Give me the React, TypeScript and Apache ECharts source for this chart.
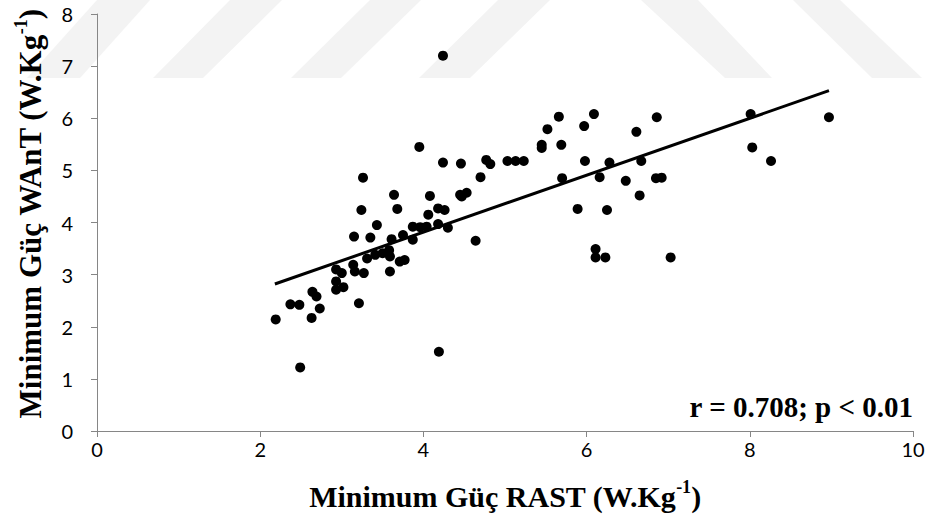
import React, { useEffect, useRef } from "react";
import * as echarts from "echarts";

// Scatter points (Minimum Güç RAST, Minimum Güç WAnT)
const rastValues: number[] = [
  2.19, 2.37, 2.48, 2.49, 2.63, 2.73, 2.64, 2.69, 2.93, 2.93,
  3.02, 2.93, 3.0, 3.14, 3.16, 3.27, 3.21, 3.31, 3.41, 3.5,
  3.58, 3.59, 3.59, 3.71, 3.77, 3.61, 3.75, 3.87, 3.15, 3.35,
  3.43, 3.87, 3.96, 4.04, 4.18, 4.3, 4.06, 4.18, 4.26, 3.24,
  3.68, 3.64, 4.08, 4.45, 4.53, 3.26, 4.19, 4.64, 4.7, 3.95,
  4.24, 4.46, 4.77, 4.82, 5.03, 5.13, 5.23, 5.45, 5.45, 5.52,
  5.66, 5.69, 5.7, 5.89, 5.97, 5.98, 6.09, 6.11, 6.11, 6.23,
  6.16, 6.25, 6.28, 6.48, 6.61, 6.65, 6.67, 6.85, 6.92, 6.86,
  7.03, 8.01, 8.03, 8.26, 8.97, 4.24, 4.47,
];
const wantValues: number[] = [
  2.14, 2.43, 2.42, 1.22, 2.17, 2.35, 2.67, 2.58, 2.71, 2.87,
  2.76, 3.1, 3.03, 3.19, 3.06, 3.03, 2.45, 3.31, 3.38, 3.41,
  3.47, 3.35, 3.06, 3.25, 3.28, 3.68, 3.76, 3.67, 3.73, 3.71,
  3.95, 3.92, 3.91, 3.92, 3.97, 3.9, 4.15, 4.27, 4.24, 4.24,
  4.26, 4.53, 4.51, 4.53, 4.57, 4.86, 1.52, 3.65, 4.87, 5.45,
  5.15, 5.13, 5.2, 5.12, 5.18, 5.18, 5.18, 5.49, 5.43, 5.79,
  6.03, 5.49, 4.85, 4.26, 5.85, 5.18, 6.08, 3.49, 3.33, 3.33,
  4.87, 4.24, 5.15, 4.8, 5.74, 4.52, 5.18, 4.85, 4.86, 6.02,
  3.33, 6.08, 5.44, 5.18, 6.02, 7.2, 4.5,
];

// Linear trend line end points
const trendX: number[] = [2.18, 8.97];
const trendY: number[] = [2.82, 6.53];

const xTicks = { min: 0, max: 10, interval: 2 };
const yTicks = { min: 0, max: 8, interval: 1 };

const xTitle = "Minimum Güç RAST (W.Kg";
const yTitle = "Minimum Güç WAnT (W.Kg";
const statText = "r = 0.708; p < 0.01";

// Watermark bands (decorative background)
const watermark: number[][][] = [
  [[97, 0], [150, 0], [80, 78], [27, 78]],
  [[230, 0], [282, 0], [203, 78], [153, 78]],
  [[370, 0], [421, 0], [341, 78], [291, 78]],
  [[498, 0], [550, 0], [470, 78], [419, 78]],
  [[641, 0], [698, 0], [772, 78], [725, 78]],
  [[793, 0], [840, 0], [922, 78], [872, 78]],
];

export default function App() {
  const ref = useRef<HTMLDivElement>(null);
  useEffect(() => {
    document.body.style.margin = "0";
    if (!ref.current) return;
    const chart = echarts.init(ref.current, null, { renderer: "svg" });
    const points = rastValues.map((x, i) => [x, wantValues[i]]);
    const trend = trendX.map((x, i) => [x, trendY[i]]);
    const serif = "'Liberation Serif', 'Times New Roman', serif";
    const makeRich = (size: number, sup: number) => ({
      a: { fontFamily: serif, fontWeight: "bold", fontSize: size, fill: "#000", lineHeight: size + 6 },
      s: { fontFamily: serif, fontWeight: "bold", fontSize: sup, fill: "#000", lineHeight: sup, verticalAlign: "top" },
    });
    const axisCommon = {
      axisLine: { show: true, lineStyle: { color: "#868686", width: 1 } },
      axisTick: { show: true, inside: false, length: 6, lineStyle: { color: "#868686" } },
      splitLine: { show: false },
    };
    chart.setOption({
      animation: false,
      backgroundColor: "#ffffff",
      grid: { left: 97, right: 18, top: 14, bottom: 96 },
      xAxis: {
        type: "value",
        ...xTicks,
        ...axisCommon,
        axisLabel: { fontFamily: "Lato", fontSize: 20, color: "#000", margin: 8 },
      },
      yAxis: {
        type: "value",
        ...yTicks,
        ...axisCommon,
        axisLabel: { fontFamily: "Lato", fontSize: 20, color: "#000", margin: 24 },
      },
      graphic: [
        ...watermark.map((pts) => ({
          type: "polygon",
          z: -10,
          silent: true,
          shape: { points: pts },
          style: { fill: "#f3f3f3" },
        })),
        {
          type: "text",
          x: 505,
          y: 496,
          style: {
            text: `{a|${xTitle}}{s|-1}{a|)}`,
            rich: makeRich(30, 18),
            align: "center",
            verticalAlign: "middle",
          },
        },
        {
          type: "text",
          x: 30,
          y: 214,
          rotation: Math.PI / 2,
          style: {
            text: `{a|${yTitle}}{s|-1}{a|)}`,
            rich: makeRich(31, 18),
            align: "center",
            verticalAlign: "middle",
          },
        },
        {
          type: "text",
          x: 913,
          y: 407,
          style: {
            text: statText,
            fontFamily: serif,
            fontWeight: "bold",
            fontSize: 29,
            fill: "#000",
            align: "right",
            verticalAlign: "middle",
          },
        },
      ],
      series: [
        {
          type: "scatter",
          data: points,
          symbol: "circle",
          symbolSize: 10,
          itemStyle: { color: "#000", opacity: 1 },
          z: 3,
        },
        {
          type: "line",
          data: trend,
          symbol: "none",
          lineStyle: { color: "#000", width: 3 },
          z: 4,
        },
      ],
    });
    return () => chart.dispose();
  }, []);
  return <div ref={ref} style={{ width: 931, height: 527 }} />;
}
